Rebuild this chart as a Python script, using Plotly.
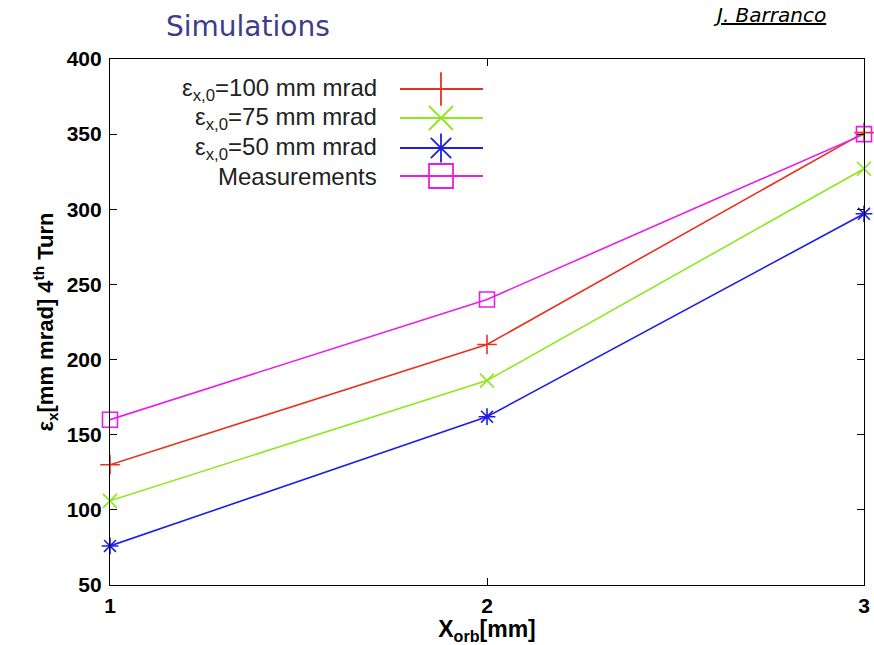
import plotly.graph_objects as go

x_orb = [1, 2, 3]
eps_100 = [130, 210, 351]
eps_75 = [106, 186, 327]
eps_50 = [76, 162, 297]
measurements = [160, 240, 350]

series_names = ["ε<sub>x,0</sub>=100 mm mrad", "ε<sub>x,0</sub>=75 mm mrad",
                "ε<sub>x,0</sub>=50 mm mrad", "Measurements"]
series_vals = [eps_100, eps_75, eps_50, measurements]
colors = ["#e8321e", "#8ee81e", "#1e1ee8", "#e81ee8"]
symbols = ["cross-thin-open", "x-thin-open", "asterisk-open", "square-open"]
sizes = [14, 14, 14, 15]
y_ticks = [50, 100, 150, 200, 250, 300, 350, 400]

fig = go.Figure()
for name, vals, c, s, sz in zip(series_names, series_vals, colors, symbols, sizes):
    fig.add_trace(go.Scatter(
        x=x_orb, y=vals, mode="lines+markers", name=name, showlegend=False,
        line=dict(color=c, width=1.6),
        marker=dict(symbol=s, size=sz, color=c, line=dict(color=c, width=1.6)),
        cliponaxis=False,
    ))

# custom legend (text left of sample, gnuplot style), placed in pixel-like overlay axes
legend_rows = [30, 59, 89, 117]
for row, name, c, s in zip(legend_rows, series_names, colors, symbols):
    fig.add_trace(go.Scatter(
        x=[290, 373], y=[row, row], mode="lines", xaxis="x2", yaxis="y2",
        line=dict(color=c, width=1.8), showlegend=False, hoverinfo="skip"))
    fig.add_trace(go.Scatter(
        x=[331], y=[row], mode="markers", xaxis="x2", yaxis="y2",
        marker=dict(symbol=s, size=24, color=c, line=dict(color=c, width=1.8)),
        showlegend=False, hoverinfo="skip"))
    fig.add_annotation(x=269, y=row, xref="x2", yref="y2", text=name,
                       showarrow=False, xanchor="right", yanchor="middle",
                       font=dict(family="Liberation Sans", size=24, color="#222"))

tick_font = dict(family="Liberation Sans", size=21, color="black", weight="bold")
fig.update_layout(
    width=874, height=645,
    margin=dict(l=110, r=10, t=59, b=60),
    plot_bgcolor="white", paper_bgcolor="white",
    font=dict(family="Liberation Sans", size=18, color="black"),
    xaxis=dict(range=[1, 3], tickvals=x_orb, ticktext=[str(v) for v in x_orb],
               ticks="inside", ticklen=7, tickcolor="black", mirror="ticks",
               showline=True, linecolor="black", linewidth=1.2, showgrid=False,
               zeroline=False, tickfont=tick_font, ticklabelstandoff=2,
               automargin=False,
               title=dict(text="X<sub>orb</sub>[mm]", standoff=0,
                          font=dict(family="Liberation Sans", size=23, color="black",
                                    weight="bold"))),
    yaxis=dict(range=[50, 400], tickvals=y_ticks, ticktext=[str(v) for v in y_ticks],
               ticks="inside", ticklen=7, tickcolor="black", mirror="ticks",
               showline=True, linecolor="black", linewidth=1.2, showgrid=False,
               zeroline=False, tickfont=tick_font, ticklabelstandoff=3,
               automargin=False,
               title=dict(text="ε<sub>x</sub>[mm mrad] 4<sup>th</sup> Turn", standoff=6,
                          font=dict(family="Liberation Sans", size=22, color="black",
                                    weight="bold"))),
    xaxis2=dict(range=[0, 754], overlaying="x", visible=False, fixedrange=True),
    yaxis2=dict(range=[526, 0], overlaying="y", visible=False, fixedrange=True),
)

fig.add_annotation(x=248, y=27, xref="paper", yref="paper", text="Simulations",
                   showarrow=False, xanchor="center", yanchor="middle",
                   font=dict(family="DejaVu Sans", size=28, color="#3c3c8c"))
fig.add_annotation(x=828, y=15, xref="paper", yref="paper",
                   text="<i><u>J. Barranco</u></i>", showarrow=False,
                   xanchor="right", yanchor="middle",
                   font=dict(family="DejaVu Sans", size=20, color="black"))

# convert pixel positions for the header annotations into paper coords
for ann in fig.layout.annotations:
    if ann.xref == "paper":
        px, py = ann.x, ann.y
        ann.x = (px - 110) / (874 - 120)
        ann.y = 1 - (py - 59) / (645 - 119)

fig.write_html("out.html")
